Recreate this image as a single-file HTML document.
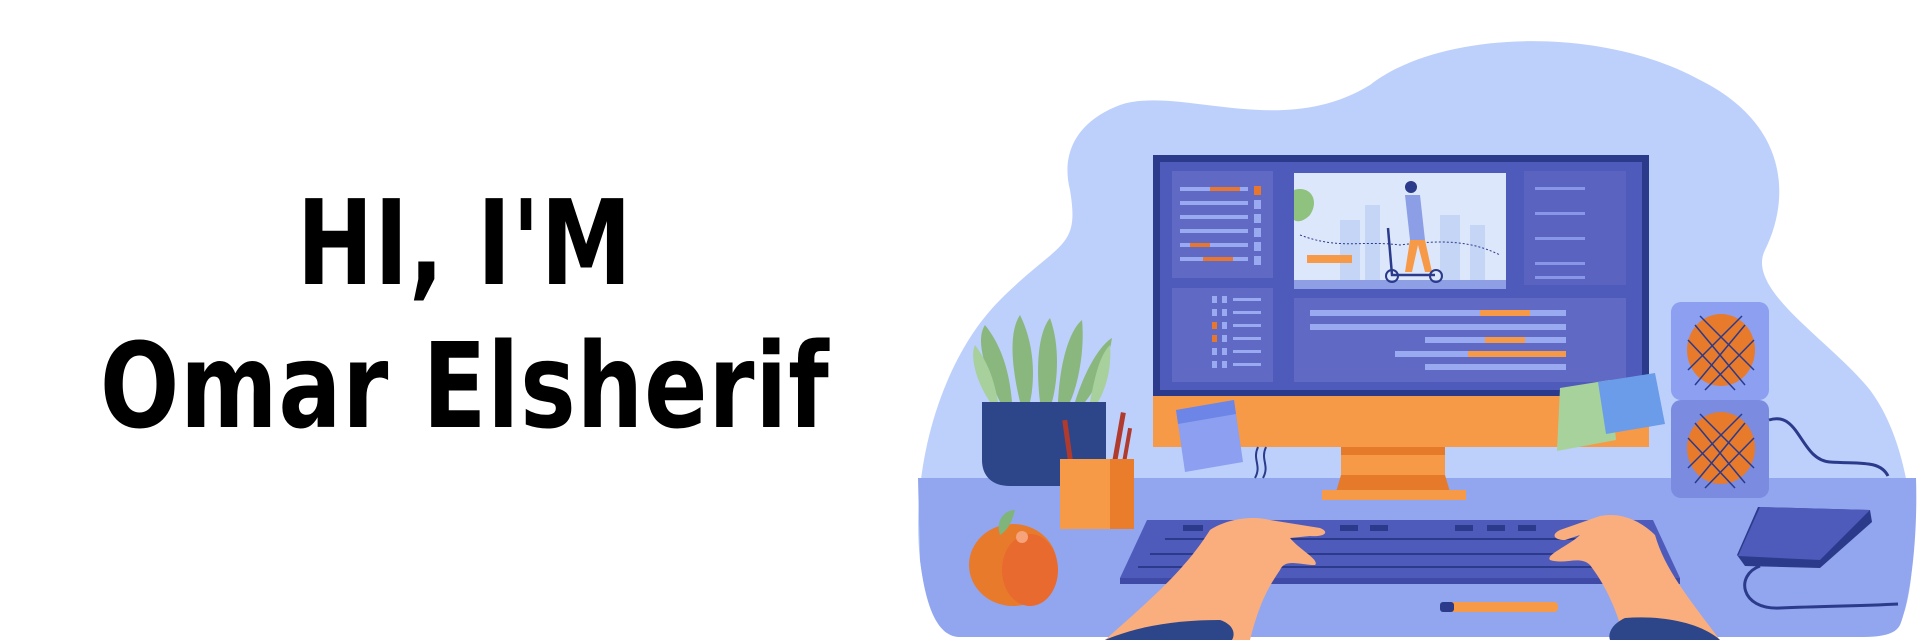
<!DOCTYPE html>
<html><head><meta charset="utf-8"><style>
html,body{margin:0;padding:0;background:#fff;width:1920px;height:640px;overflow:hidden}
.t{position:absolute;left:0;width:930px;text-align:center;font-family:"DejaVu Sans","Liberation Sans",sans-serif;font-weight:bold;font-stretch:condensed;color:#000;font-size:118px;line-height:1;letter-spacing:1px}
svg{position:absolute;left:0;top:0}
</style></head><body>
<div class="t" style="top:184px;transform:scaleX(0.86);transform-origin:463px 0">HI, I'M</div>
<div class="t" style="top:327px;transform:scaleX(0.88);transform-origin:463px 0">Omar Elsherif</div>
<svg width="1920" height="640" viewBox="0 0 1920 640">
<path d="M1370 85 C1440 30 1600 25 1700 80 C1790 125 1790 200 1765 250 C1745 290 1830 340 1870 390 C1915 450 1920 560 1905 610 C1895 635 1880 637 1860 637 L960 637 C935 637 925 600 920 560 C910 470 940 360 1000 300 C1060 240 1080 250 1070 190 C1060 150 1080 120 1120 105 C1180 85 1280 140 1370 85 Z" fill="#bdd0fb"/>
<path d="M918 478 L1916 478 C1918 540 1910 600 1900 625 C1895 635 1880 637 1860 637 L960 637 C935 637 925 600 920 560 Z" fill="#91a6ee"/>
<g fill="#8ab77e">
<path d="M1000 402 C985 370 975 340 985 325 C1005 350 1010 380 1012 402Z"/>
<path d="M1020 402 C1010 360 1010 330 1020 315 C1035 345 1035 380 1030 402Z"/>
<path d="M1040 402 C1035 360 1040 330 1050 318 C1060 345 1058 380 1052 402Z"/>
<path d="M1058 402 C1060 360 1070 330 1082 320 C1085 350 1078 385 1070 402Z"/>
<path d="M1075 402 C1085 370 1100 345 1112 338 C1108 365 1095 390 1085 402Z"/>
</g>
<g fill="#a8d09c"><path d="M990 402 C975 380 970 355 975 345 C990 365 995 385 998 402Z"/><path d="M1090 402 C1095 375 1100 355 1110 345 C1112 370 1105 390 1098 402Z"/></g>
<path d="M982 402 L1106 402 L1106 486 L1010 486 C992 486 982 476 982 460Z" fill="#2c4689"/>
<rect x="1065" y="420" width="5" height="45" fill="#b03a2e" transform="rotate(-8 1067 440)"/>
<rect x="1116" y="412" width="5" height="50" fill="#b03a2e" transform="rotate(10 1118 440)"/>
<rect x="1126" y="428" width="4" height="35" fill="#b03a2e" transform="rotate(10 1128 440)"/>
<rect x="1060" y="459" width="74" height="70" fill="#f79a47"/>
<rect x="1110" y="459" width="24" height="70" fill="#e97d2c"/>
<ellipse cx="1013" cy="565" rx="44" ry="41" fill="#e87a2c"/>
<ellipse cx="1030" cy="570" rx="28" ry="36" fill="#e86a2e"/>
<circle cx="1022" cy="537" r="6" fill="#f6a27a"/>
<path d="M1000 535 C995 520 1005 510 1015 510 C1012 522 1008 530 1000 535Z" fill="#7fb57a"/>
<rect x="1671" y="302" width="98" height="98" rx="10" fill="#8c9ff0"/>
<rect x="1671" y="400" width="98" height="98" rx="10" fill="#7a8be0"/>
<ellipse cx="1721" cy="350" rx="34" ry="36" fill="#e87a2c"/>
<ellipse cx="1721" cy="448" rx="34" ry="36" fill="#e87a2c"/>
<g stroke="#2b3a8a" stroke-width="1.5" fill="none"><path d="M1695 325 L1745 385 M1700 316 L1754 370 M1688 340 L1735 390 M1745 325 L1695 385 M1742 316 L1688 370 M1754 340 L1705 390"/><path d="M1695 423 L1745 483 M1700 414 L1754 468 M1688 438 L1735 488 M1745 423 L1695 483 M1742 414 L1688 468 M1754 438 L1705 488"/></g>
<path d="M1769 420 C1800 410 1800 460 1830 462 C1860 464 1880 460 1888 476" stroke="#2b3a8a" stroke-width="3" fill="none"/>
<rect x="1153" y="155" width="496" height="243" fill="#2b3a8a"/>
<rect x="1160" y="162" width="482" height="228" fill="#4f5bbb"/>
<rect x="1153" y="396" width="496" height="51" fill="#f79a47"/>
<rect x="1341" y="447" width="104" height="45" fill="#f79a47"/>
<rect x="1341" y="447" width="104" height="8" fill="#e57a2a"/>
<path d="M1341 475 L1445 475 L1450 492 L1336 492Z" fill="#e57a2a"/>
<rect x="1322" y="490" width="144" height="10" fill="#f79a47"/>
<path d="M1258 447 C1252 460 1262 465 1255 478 M1266 447 C1260 460 1270 465 1263 478" stroke="#2b3a8a" stroke-width="2" fill="none"/>
<rect x="1172" y="171" width="101" height="107" fill="#6069c4"/>
<rect x="1172" y="288" width="101" height="94" fill="#6069c4"/>
<rect x="1294" y="298" width="332" height="84" fill="#6069c4"/>
<rect x="1524" y="171" width="102" height="114" fill="#5a63c0"/>
<g fill="#9aaaf0"><rect x="1180" y="187" width="68" height="4"/><rect x="1180" y="201" width="68" height="4"/><rect x="1180" y="215" width="68" height="4"/><rect x="1180" y="229" width="68" height="4"/><rect x="1180" y="243" width="68" height="4"/><rect x="1180" y="257" width="68" height="4"/></g>
<g fill="#e8762c"><rect x="1210" y="187" width="30" height="4"/><rect x="1190" y="243" width="20" height="4"/><rect x="1203" y="257" width="30" height="4"/></g>
<g fill="#9aaaf0"><rect x="1254" y="200" width="7" height="9"/><rect x="1254" y="214" width="7" height="9"/><rect x="1254" y="228" width="7" height="9"/><rect x="1254" y="242" width="7" height="9"/><rect x="1254" y="256" width="7" height="9"/></g>
<rect x="1254" y="186" width="7" height="9" fill="#e8762c"/>
<g fill="#9aaaf0"><rect x="1233" y="298" width="28" height="3"/><rect x="1233" y="311" width="28" height="3"/><rect x="1233" y="324" width="28" height="3"/><rect x="1233" y="337" width="28" height="3"/><rect x="1233" y="350" width="28" height="3"/><rect x="1233" y="363" width="28" height="3"/>
<rect x="1212" y="296" width="5" height="7"/><rect x="1212" y="309" width="5" height="7"/><rect x="1222" y="296" width="5" height="7"/><rect x="1222" y="309" width="5" height="7"/><rect x="1222" y="322" width="5" height="7"/><rect x="1222" y="335" width="5" height="7"/><rect x="1212" y="348" width="5" height="7"/><rect x="1222" y="348" width="5" height="7"/><rect x="1212" y="361" width="5" height="7"/><rect x="1222" y="361" width="5" height="7"/></g>
<g fill="#e8762c"><rect x="1212" y="322" width="5" height="7"/><rect x="1212" y="335" width="5" height="7"/></g>
<g fill="#9aaaf0"><rect x="1310" y="310" width="256" height="6"/><rect x="1310" y="324" width="256" height="6"/><rect x="1425" y="337" width="141" height="6"/><rect x="1395" y="351" width="171" height="6"/><rect x="1425" y="364" width="141" height="6"/></g>
<g fill="#f79a47"><rect x="1480" y="310" width="50" height="6"/><rect x="1485" y="337" width="40" height="6"/><rect x="1468" y="351" width="98" height="6"/></g>
<g fill="#8796e6"><rect x="1535" y="187" width="50" height="3"/><rect x="1535" y="212" width="50" height="3"/><rect x="1535" y="237" width="50" height="3"/><rect x="1535" y="262" width="50" height="3"/><rect x="1535" y="276" width="50" height="3"/></g>
<rect x="1294" y="173" width="212" height="116" fill="#dde7fb"/>
<rect x="1294" y="280" width="212" height="9" fill="#8f9fe6"/>
<g fill="#c5d5f6"><rect x="1340" y="220" width="20" height="60"/><rect x="1365" y="205" width="15" height="75"/><rect x="1440" y="215" width="20" height="65"/><rect x="1470" y="225" width="15" height="55"/></g>
<path d="M1294 190 C1310 185 1320 200 1310 215 C1300 225 1294 220 1294 220Z" fill="#8fc27e"/>
<rect x="1307" y="255" width="45" height="8" fill="#f79a47"/>
<path d="M1300 235 C1340 250 1360 240 1400 245 C1440 240 1470 240 1500 255" stroke="#2b3a8a" stroke-width="1" stroke-dasharray="2 2" fill="none"/>
<path d="M1405 195 L1420 195 L1425 240 L1410 240Z" fill="#8c9fe6"/>
<circle cx="1411" cy="187" r="6" fill="#2b3a8a"/>
<path d="M1410 240 L1405 272 L1412 272 L1418 245 L1425 272 L1432 272 L1425 240Z" fill="#f79a47"/>
<path d="M1388 228 L1392 275 L1435 275" stroke="#2b3a8a" stroke-width="2.5" fill="none"/>
<circle cx="1392" cy="276" r="6" fill="none" stroke="#2b3a8a" stroke-width="2"/><circle cx="1436" cy="276" r="6" fill="none" stroke="#2b3a8a" stroke-width="2"/>
<path d="M1176 410 L1234 400 L1243 462 L1185 472Z" fill="#8c9ff0"/>
<path d="M1176 410 L1234 400 L1236 414 L1178 424Z" fill="#6c85e6"/>
<path d="M1560 388 L1610 380 L1616 440 L1557 451Z" fill="#a8d29c"/>
<path d="M1598 382 L1655 373 L1665 424 L1606 434Z" fill="#6b9cea"/>
<path d="M1147 520 L1653 520 L1680 578 L1120 578Z" fill="#4f5bbb"/>
<rect x="1120" y="578" width="560" height="6" fill="#3f4aa6"/>
<g fill="#2b3a8a"><rect x="1183" y="525" width="20" height="6"/><rect x="1340" y="525" width="18" height="6"/><rect x="1370" y="525" width="18" height="6"/><rect x="1455" y="525" width="18" height="6"/><rect x="1487" y="525" width="18" height="6"/><rect x="1518" y="525" width="18" height="6"/>
<rect x="1165" y="538" width="470" height="2"/><rect x="1150" y="553" width="500" height="2"/><rect x="1138" y="566" width="525" height="2"/></g>
<path d="M1758 507 L1870 510 L1872 522 L1820 568 L1745 566 L1737 555Z" fill="#2b3a8a"/>
<path d="M1760 507 L1870 510 L1820 560 L1738 556Z" fill="#4f5bbb"/>
<path d="M1760 566 C1735 575 1740 610 1780 608 C1830 606 1860 606 1898 604" stroke="#2b3a8a" stroke-width="3" fill="none"/>
<rect x="1440" y="602" width="118" height="10" rx="4" fill="#f79a47"/><rect x="1440" y="602" width="14" height="10" rx="3" fill="#2b3a8a"/>
<path d="M1105 640 C1150 600 1185 570 1210 530 C1225 520 1250 515 1270 520 L1320 528 C1330 532 1325 537 1310 536 L1290 538 C1300 550 1320 560 1315 565 C1300 565 1285 558 1280 570 C1270 585 1260 600 1250 640Z" fill="#fbae7d"/>
<path d="M1105 640 C1140 625 1180 620 1220 620 C1235 625 1235 635 1232 640Z" fill="#2c4689"/>
<path d="M1720 640 C1690 600 1665 570 1655 535 C1640 520 1620 512 1600 516 L1560 530 C1550 535 1555 540 1565 540 L1580 535 C1570 545 1545 555 1550 560 C1565 565 1580 555 1590 565 C1605 585 1615 605 1625 640Z" fill="#fbae7d"/>
<path d="M1720 640 C1700 622 1660 615 1625 618 C1610 625 1608 635 1610 640Z" fill="#2c4689"/>
</svg>
</body></html>
